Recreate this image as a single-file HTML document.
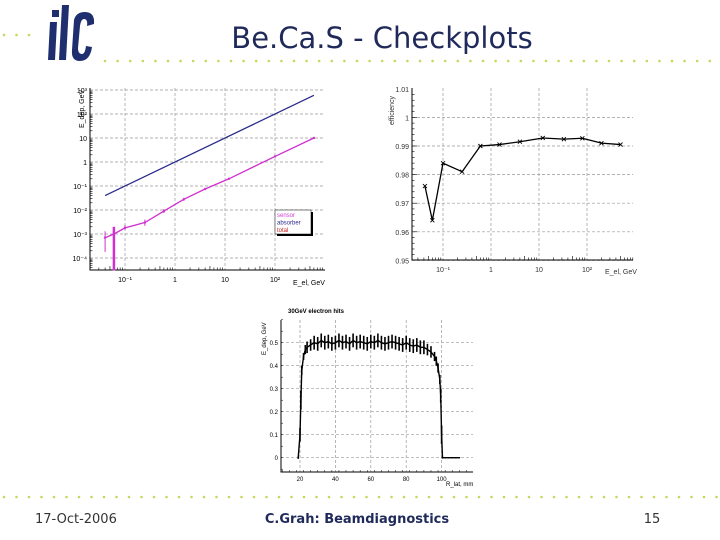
<!DOCTYPE html>
<html><head><meta charset="utf-8"><style>
html,body{margin:0;padding:0;background:#fff;}
svg{display:block;font-family:"Liberation Sans",sans-serif;}
</style></head><body>
<svg id="s" width="720" height="540" viewBox="0 0 720 540">
<g id="deco"></g>
<g fill="#1f2e6e">
  <polygon points="50,22 57,22 55,60 48,60"/><rect x="52" y="10" width="7" height="7"/>
  <polygon points="62,5 69,5 66,60 59,60"/>
  <path d="M74,20 Q76,12 85,12 Q95,12 94,24 L87,26 Q88,19 84,19 Q81,19 80,26 L78,48 Q78,54 82,54 Q85,54 86,46 L92,47 Q90,61 80,61 Q71,61 72,50 Z"/>
</g>
<text x="382" y="48" text-anchor="middle" font-family="'DejaVu Sans',sans-serif" font-size="29" fill="#1f2a5a">Be.Ca.S - Checkplots</text>
<text x="35" y="523" font-size="13" fill="#333" font-family="'DejaVu Sans',sans-serif">17-Oct-2006</text>
<text x="357" y="523" text-anchor="middle" font-size="13" font-weight="bold" fill="#1f2a5a" font-family="'DejaVu Sans',sans-serif">C.Grah: Beamdiagnostics</text>
<text x="652" y="523" text-anchor="middle" font-size="13" fill="#333" font-family="'DejaVu Sans',sans-serif">15</text>
<g id="p1"></g>
<g id="p2"></g>
<g id="p3"></g>
</svg>
<script>
// Chart 1: deposited energy vs electron energy
const c1Absorber = {e:[0.04, 600], v:[0.04, 600]};
const c1SensorE = [0.04, 0.06, 0.1, 0.25, 0.6, 1.5, 4, 12, 100, 600];
const c1SensorV = [0.0007, 0.001, 0.0018, 0.003, 0.009, 0.028, 0.075, 0.2, 1.7, 10];
const c1SensorLo = [0.00018, 0.00003, 0.0015, 0.0022, 0.0075, 0.024, 0.07, 0.19, 1.6, 9.5];
const c1SensorHi = [0.0013, 0.002, 0.0024, 0.004, 0.011, 0.032, 0.08, 0.21, 1.8, 10.5];
const c1YTicks = ["10³","10²","10","1","10⁻¹","10⁻²","10⁻³","10⁻⁴"];
const c1XTicks = ["10⁻¹","1","10","10²"];
// Chart 2: efficiency
const c2E = [0.042, 0.06, 0.1, 0.25, 0.6, 1.5, 4, 12, 33, 80, 200, 500];
const c2Eff = [0.976, 0.964, 0.984, 0.981, 0.990, 0.9905, 0.9915, 0.9928, 0.9924, 0.9927, 0.991, 0.9905];
const c2YTicks = ["1.01","1","0.99","0.98","0.97","0.96","0.95"];
const c2XTicks = ["10⁻¹","1","10","10²"];
// Chart 3: 30GeV electron hits
const c3R = [19,20,20.5,21,22,23,24,26,28,30,32,34,36,38,40,42,44,46,48,50,52,54,56,58,60,62,64,66,68,70,72,74,76,78,80,82,84,86,88,90,92,94,96,97,98,99,99.5,100,100.5,102,104,106,108,110];
const c3E = [0,0.1,0.25,0.38,0.44,0.47,0.48,0.49,0.5,0.495,0.51,0.5,0.505,0.495,0.5,0.51,0.5,0.505,0.495,0.51,0.5,0.505,0.5,0.495,0.505,0.5,0.51,0.5,0.495,0.5,0.505,0.5,0.495,0.49,0.5,0.49,0.485,0.49,0.48,0.48,0.47,0.46,0.44,0.42,0.39,0.34,0.27,0.1,0,0,0,0,0,0];
const c3Err = [0.005,0.03,0.04,0.02,0.015,0.02,0.025,0.025,0.03,0.03,0.03,0.03,0.03,0.03,0.03,0.03,0.03,0.03,0.03,0.03,0.03,0.03,0.03,0.03,0.03,0.03,0.03,0.03,0.03,0.03,0.03,0.03,0.03,0.03,0.03,0.03,0.03,0.03,0.03,0.03,0.025,0.025,0.02,0.02,0.02,0.02,0.03,0.04,0.004,0.003,0.003,0.003,0.003,0.003];
const c3YTicks = ["0.5","0.4","0.3","0.2","0.1","0"];
const c3XTicks = ["20","40","60","80","100"];

const NS="http://www.w3.org/2000/svg";
function mk(parent,tag,attrs,txt){const e=document.createElementNS(NS,tag);for(const k in attrs)e.setAttribute(k,attrs[k]);if(txt!==undefined)e.textContent=txt;parent.appendChild(e);return e;}

const deco=document.getElementById('deco');
for(let x=4;x<40;x+=12.5){const d=mk(deco,'circle',{cx:x,cy:35,r:1.3,fill:'#c9d65c'});}
for(let x=105;x<720;x+=12.6){const d=mk(deco,'circle',{cx:x,cy:61,r:1.3,fill:'#c9d65c'});}
for(let x=4;x<720;x+=12.5){const d=mk(deco,'circle',{cx:x,cy:497,r:1.3,fill:'#c9d65c'});}

function grid(g,x1,y1,x2,y2){const l=mk(g,'line',{x1,y1,x2,y2,stroke:'#999','stroke-width':0.7,'stroke-dasharray':'3,2'});}

// ---- Chart 1
(function(){
const g=document.getElementById('p1');
const L=90,R=325,T=88,B=270;
const xs=e=>175+50*Math.log10(e);
const ys=v=>162-24*Math.log10(v);
c1YTicks.forEach((t,i)=>{const y=ys(Math.pow(10,3-i));grid(g,L,y,R,y);
  const tx=mk(g,'text',{x:L-3,y:y+3,'text-anchor':'end','font-size':7,fill:'#000'},t);});
c1XTicks.forEach((t,i)=>{const x=xs(Math.pow(10,i-1));grid(g,x,T,x,B);
  const tx=mk(g,'text',{x:x,y:B+12,'text-anchor':'middle','font-size':7,fill:'#000'},t);});
for(let d=-2;d<=2;d++)for(let m=2;m<10;m++){const x=xs(m*Math.pow(10,d));if(x>L&&x<R)mk(g,'line',{x1:x,y1:B,x2:x,y2:B-(m==5?4:2.5),stroke:'#000','stroke-width':0.6});}
for(let d=-5;d<=2;d++)for(let m=2;m<10;m++){const y=ys(m*Math.pow(10,d));if(y>T&&y<B)mk(g,'line',{x1:L,y1:y,x2:L+2.5,y2:y,stroke:'#000','stroke-width':0.6});}
const ax=mk(g,'path',{d:`M${L},${T} V${B} H${R}`,fill:'none',stroke:'#000','stroke-width':1});
const bl=mk(g,'polyline',{points:c1Absorber.e.map((e,i)=>xs(e)+','+ys(c1Absorber.v[i])).join(' '),fill:'none',stroke:'#2a2a8c','stroke-width':1.3});

const pl=mk(g,'polyline',{points:c1SensorE.map((e,i)=>xs(e)+','+ys(c1SensorV[i])).join(' '),fill:'none',stroke:'#d030d0','stroke-width':1.3});

c1SensorE.forEach((e,i)=>{const x=xs(e);const eb=mk(g,'line',{x1:x,y1:ys(c1SensorLo[i]),x2:x,y2:Math.min(B,ys(c1SensorHi[i])),stroke:'#d030d0','stroke-width':i==1?2.5:1});
  
  const p=mk(g,'circle',{cx:x,cy:ys(c1SensorV[i]),r:1.2,fill:'#d030d0'});});
const lg=mk(g,'g',{});
mk(lg,'rect',{x:277,y:212,width:36,height:24,fill:'#000'});
mk(lg,'rect',{x:275,y:210,width:36,height:24,fill:'#fff',stroke:'#000','stroke-width':0.5});
[['sensor','#d040d0'],['absorber','#2a2a8c'],['total','#cc2020']].forEach((a,i)=>{const t=mk(lg,'text',{x:277,y:217+i*7.5,'font-size':6,fill:a[1]},a[0]);});
const yt=mk(g,'text',{transform:'translate(84,128) rotate(-90)','font-size':7,fill:'#000'},'E_dep, GeV');
const xt=mk(g,'text',{x:293,y:285,'font-size':7,fill:'#000'},'E_el, GeV');
})();

// ---- Chart 2
(function(){
const g=document.getElementById('p2');
const L=412,R=633,T=88,B=260;
const xs=e=>491+48*Math.log10(e);
const ys=v=>146-(v-0.99)*2860;
c2YTicks.forEach((t,i)=>{const y=ys(1.01-i*0.01);if(i>0)grid(g,L,y,R,y);
  const tx=mk(g,'text',{x:L-3,y:y+3,'text-anchor':'end','font-size':7,fill:'#333'},t);});
c2XTicks.forEach((t,i)=>{const x=xs(Math.pow(10,i-1));grid(g,x,T,x,B);
  const tx=mk(g,'text',{x:x,y:B+12,'text-anchor':'middle','font-size':7,fill:'#333'},t);});
for(let d=-2;d<=2;d++)for(let m=2;m<10;m++){const x=xs(m*Math.pow(10,d));if(x>L&&x<R)mk(g,'line',{x1:x,y1:B,x2:x,y2:B-(m==5?4:2.5),stroke:'#000','stroke-width':0.6});}
for(let k=0;k<30;k++){const y=ys(0.95+k*0.002);if(y>=T&&y<=B)mk(g,'line',{x1:L,y1:y,x2:L+(k%5==0?5:2.5),y2:y,stroke:'#000','stroke-width':0.6});}
const ax=mk(g,'path',{d:`M${L},${T} V${B} H${R}`,fill:'none',stroke:'#000','stroke-width':1});
const pl=mk(g,'polyline',{points:c2E.map((e,i)=>xs(e)+','+ys(c2Eff[i])).join(' '),fill:'none',stroke:'#000','stroke-width':1.3});

c2E.forEach((e,i)=>{const x=xs(e),y=ys(c2Eff[i]);const p=mk(g,'path',{d:`M${x-2},${y-2}L${x+2},${y+2}M${x-2},${y+2}L${x+2},${y-2}`,stroke:'#000','stroke-width':0.9});
  });
const yt=mk(g,'text',{transform:'translate(394,125) rotate(-90)','font-size':7,fill:'#333'},'efficiency');
const xt=mk(g,'text',{x:605,y:274,'font-size':7,fill:'#333'},'E_el, GeV');
})();

// ---- Chart 3
(function(){
const g=document.getElementById('p3');
const L=281,R=473,T=320,B=472;
const xs=r=>300+(r-20)*1.77;
const ys=v=>457.7-v*230;
c3YTicks.forEach((t,i)=>{const y=ys(0.5-i*0.1);grid(g,L,y,R,y);
  const tx=mk(g,'text',{x:L-3,y:y+2.5,'text-anchor':'end','font-size':6,fill:'#000'},t);});
c3XTicks.forEach((t,i)=>{const x=xs(20+i*20);grid(g,x,T,x,B);
  const tx=mk(g,'text',{x:x,y:B+9,'text-anchor':'middle','font-size':6,fill:'#000'},t);});
for(let r=10;r<=116;r+=4){mk(g,'line',{x1:xs(r),y1:B,x2:xs(r),y2:B-2,stroke:'#000','stroke-width':0.5});}
for(let k=-1;k<=12;k++){mk(g,'line',{x1:L,y1:ys(k*0.05),x2:L+2,y2:ys(k*0.05),stroke:'#000','stroke-width':0.5});}
const ax=mk(g,'path',{d:`M${L},${T} V${B} H${R}`,fill:'none',stroke:'#000','stroke-width':1});
c3R.forEach((r,i)=>{const eb=mk(g,'line',{x1:xs(r),y1:ys(c3E[i]-c3Err[i]),x2:xs(r),y2:ys(c3E[i]+c3Err[i]),stroke:'#000','stroke-width':1.6});
  });
const pl=mk(g,'polyline',{points:c3R.map((r,i)=>xs(r)+','+ys(c3E[i])).join(' '),fill:'none',stroke:'#000','stroke-width':1.4});

const ti=mk(g,'text',{x:288,y:313,'font-size':6,'font-weight':'bold',fill:'#000'},'30GeV electron hits');
const yt=mk(g,'text',{transform:'translate(266,355) rotate(-90)','font-size':6,fill:'#000'},'E_dep, GeV');
const xt=mk(g,'text',{x:446,y:486,'font-size':6,fill:'#000'},'R_lat, mm');
})();
</script>
</body></html>
